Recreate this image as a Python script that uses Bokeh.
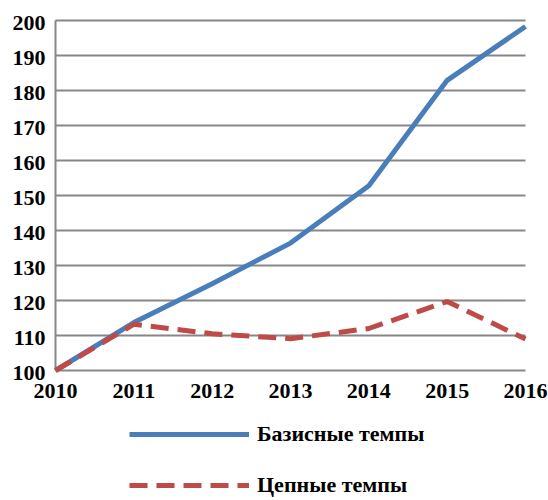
from bokeh.plotting import figure
from bokeh.models import Range1d, Legend, LegendItem
from bokeh.core.properties import value
from bokeh.embed import file_html
from bokeh.resources import INLINE

years = [2010, 2011, 2012, 2013, 2014, 2015, 2016]
base_rates = [100, 113.7, 124.8, 136.4, 152.8, 182.9, 198.3]
chain_rates = [100, 113.2, 110.5, 109.1, 112.0, 119.7, 109.0]
y_ticks = [100, 110, 120, 130, 140, 150, 160, 170, 180, 190, 200]
year_labels = [str(y) for y in years]
y_labels = [str(t) for t in y_ticks]
label_base = "Базисные темпы"
label_chain = "Цепные темпы"

FONT = "Liberation Serif"
GRID = "#878787"

# layout (pixels): the frame fills the whole figure so no text gets clipped
W, H = 548, 500
LEFT, RIGHT_EDGE, TOP, AXIS_Y = 55, 525, 20, 370
xpx = (RIGHT_EDGE - LEFT) / (years[-1] - years[0])
ypx = (AXIS_Y - TOP) / (y_ticks[-1] - y_ticks[0])
x_rng = Range1d(years[0] - LEFT / xpx, years[-1] + (W - RIGHT_EDGE) / xpx)
y_rng = Range1d(y_ticks[0] - (H - AXIS_Y) / ypx, y_ticks[-1] + TOP / ypx)

p = figure(width=W, height=H, output_backend="svg", toolbar_location=None,
           x_range=x_rng, y_range=y_rng, min_border=0)
p.outline_line_color = None
p.background_fill_color = "white"
p.border_fill_color = "white"
p.axis.visible = False
p.grid.visible = False

# horizontal grid lines
n = len(y_ticks)
p.segment(x0=[years[0]] * n, y0=y_ticks, x1=[years[-1]] * n, y1=y_ticks,
          line_color=GRID, line_width=2)
# vertical axis line
p.segment(x0=[years[0]], y0=[y_ticks[0]], x1=[years[0]], y1=[y_ticks[-1]],
          line_color=GRID, line_width=2)

r1 = p.line(years, base_rates, line_color="#4A7EBB", line_width=5)
r2 = p.line(years, chain_rates, line_color="#BE4B48", line_width=5, line_dash="18 9")

# y tick labels
p.text(x=[years[0]] * n, y=y_ticks, text=y_labels, x_offset=-10, y_offset=2,
       text_align="right", text_baseline="middle", text_font=value(FONT),
       text_font_style="bold", text_font_size="22px", text_color="black")
# category labels under the axis
p.text(x=years, y=[y_ticks[0]] * len(years), text=year_labels, y_offset=13,
       text_align="center", text_baseline="top", text_font=value(FONT),
       text_font_style="bold", text_font_size="22px", text_color="black")

legend = Legend(items=[LegendItem(label=label_base, renderers=[r1]),
                       LegendItem(label=label_chain, renderers=[r2])],
                location=(129, 2), orientation="vertical",
                glyph_width=120, glyph_height=20, label_height=20,
                label_standoff=8, spacing=25, padding=0, margin=0,
                border_line_color=None, background_fill_alpha=0,
                label_text_font=FONT, label_text_font_style="bold",
                label_text_font_size="22px", label_text_color="black")
p.add_layout(legend, "center")

open("out.html", "w").write(file_html(p, INLINE))
